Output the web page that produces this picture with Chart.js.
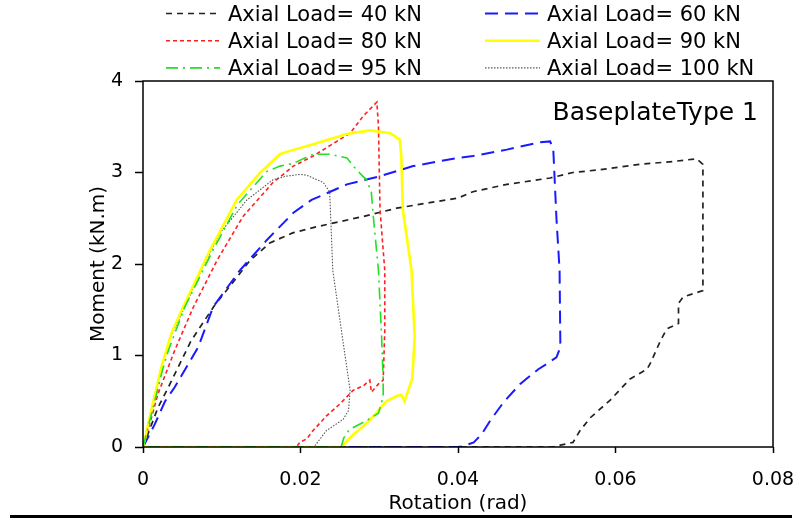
<!DOCTYPE html>
<html><head><meta charset="utf-8">
<script src="https://cdn.jsdelivr.net/npm/chart.js@4"></script>
<style>html,body{margin:0;padding:0;background:#fff}#wrap{width:800px;height:520px;position:relative}</style>
</head><body><div id="wrap"><canvas id="c" width="800" height="520"></canvas></div>
<script>
// ---- data (rotation rad, moment kN.m) ----
const seriesLabels = ['Axial Load= 40 kN','Axial Load= 60 kN','Axial Load= 80 kN','Axial Load= 90 kN','Axial Load= 95 kN','Axial Load= 100 kN'];
const xTickLabels = ['0','0.02','0.04','0.06','0.08'];
const yTickLabels = ['0','1','2','3','4'];
const annotationText = 'BaseplateType 1';
const xTitle = 'Rotation (rad)';
const yTitle = 'Moment (kN.m)';

const load40 = [[0,0],[0.0019,0.43],[0.0032,0.65],[0.0061,1.16],[0.0091,1.55],[0.0106,1.71],[0.0136,2.04],[0.0161,2.23],[0.019,2.34],[0.0222,2.41],[0.028,2.52],[0.0322,2.61],[0.0364,2.67],[0.04,2.72],[0.0419,2.79],[0.0462,2.87],[0.0517,2.94],[0.0546,3.0],[0.058,3.03],[0.0631,3.09],[0.0673,3.12],[0.0703,3.15],[0.0711,3.09],[0.0711,1.71],[0.0686,1.64],[0.068,1.57],[0.068,1.35],[0.0665,1.29],[0.0657,1.16],[0.0644,0.91],[0.064,0.85],[0.0618,0.74],[0.0593,0.51],[0.0568,0.32],[0.0555,0.18],[0.0546,0.05],[0.053,0.02],[0.052,0],[0,0]];
const load60 = [[0,0],[0.0015,0.25],[0.0028,0.5],[0.004,0.65],[0.007,1.09],[0.0089,1.53],[0.0123,1.93],[0.0157,2.26],[0.0191,2.56],[0.0214,2.7],[0.0259,2.87],[0.0301,2.96],[0.0343,3.07],[0.04,3.16],[0.0419,3.18],[0.0462,3.25],[0.0504,3.33],[0.0517,3.34],[0.0521,3.25],[0.0525,2.5],[0.0529,1.93],[0.053,1.09],[0.0525,0.98],[0.0513,0.91],[0.0502,0.85],[0.0479,0.69],[0.0458,0.49],[0.0441,0.29],[0.043,0.14],[0.042,0.05],[0.0407,0.01],[0.04,0],[0,0]];
const load80 = [[0,0],[0.00085,0.25],[0.0019,0.58],[0.004,1.05],[0.0064,1.53],[0.0094,2.04],[0.0127,2.52],[0.0165,2.89],[0.0191,3.07],[0.0216,3.18],[0.0263,3.43],[0.028,3.62],[0.0297,3.77],[0.0299,3.5],[0.0301,2.59],[0.0307,1.93],[0.0307,1.27],[0.0305,0.73],[0.0299,0.69],[0.029,0.6],[0.0288,0.73],[0.028,0.67],[0.0267,0.62],[0.025,0.47],[0.0233,0.34],[0.0216,0.18],[0.0208,0.09],[0.0199,0.05],[0.0195,0],[0,0]];
const load90 = [[0,0],[0.00106,0.4],[0.00233,0.87],[0.0036,1.24],[0.0051,1.53],[0.0085,2.15],[0.0119,2.7],[0.0149,3.0],[0.0174,3.2],[0.018,3.22],[0.0216,3.31],[0.0259,3.42],[0.0288,3.46],[0.0314,3.43],[0.0326,3.36],[0.0328,3.18],[0.033,2.59],[0.0341,1.93],[0.0345,1.2],[0.0342,0.75],[0.0336,0.6],[0.0332,0.5],[0.0328,0.57],[0.0323,0.56],[0.0309,0.5],[0.0295,0.36],[0.028,0.23],[0.0265,0.12],[0.0254,0.02],[0.0252,0],[0,0]];
const load95 = [[0,0],[0.0012,0.4],[0.0025,0.85],[0.0032,1.05],[0.0053,1.53],[0.0087,2.12],[0.012,2.65],[0.0157,3.01],[0.0174,3.07],[0.0191,3.1],[0.0216,3.2],[0.0237,3.2],[0.0259,3.16],[0.0267,3.07],[0.0279,2.96],[0.0284,2.92],[0.029,2.78],[0.0292,2.56],[0.0299,1.93],[0.0303,1.2],[0.0305,0.73],[0.0305,0.55],[0.0299,0.37],[0.0284,0.29],[0.0262,0.19],[0.0255,0.1],[0.0252,0.01],[0.025,0],[0,0]];
const load100 = [[0,0],[0.001,0.4],[0.0023,0.87],[0.0036,1.22],[0.0053,1.53],[0.0075,1.95],[0.0098,2.34],[0.0132,2.7],[0.0165,2.92],[0.0182,2.96],[0.02,2.98],[0.0208,2.97],[0.0229,2.89],[0.0237,2.79],[0.0238,2.59],[0.0241,1.93],[0.0252,1.27],[0.0263,0.62],[0.0261,0.4],[0.0254,0.3],[0.0233,0.18],[0.0218,0.01],[0.0215,0],[0,0]];

const allSeries = [load40, load60, load80, load90, load95, load100];
const styles = [
  {color:'#222222', width:1.7, dash:[6,5], order:6},
  {color:'#1a1aff', width:2, dash:[13,7], order:5},
  {color:'#ff2020', width:1.6, dash:[4,3], order:4},
  {color:'#ffff00', width:2.6, dash:[], order:2},
  {color:'#22e022', width:1.6, dash:[12,5,2,5], order:1},
  {color:'#555555', width:1.1, dash:[1.5,1.5], order:3}
];

const FONT = "'DejaVu Sans', sans-serif";

const datasets = allSeries.map((s, i) => ({
  label: seriesLabels[i],
  data: s.map(p => ({x:p[0], y:p[1]})),
  showLine: true,
  borderColor: styles[i].color,
  backgroundColor: styles[i].color,
  borderWidth: styles[i].width,
  borderDash: styles[i].dash,
  pointRadius: 0,
  pointHoverRadius: 0,
  tension: 0,
  fill: false,
  order: styles[i].order
}));

const decorPlugin = {
  id: 'decor',
  afterDatasetsDraw(chart) {
    const ctx = chart.ctx, a = chart.chartArea;
    ctx.save();
    ctx.strokeStyle = '#000';
    ctx.lineWidth = 1.5;
    ctx.setLineDash([]);
    ctx.strokeRect(a.left, a.top, a.right - a.left, a.bottom - a.top);
    ctx.restore();
  },
  afterDraw(chart) {
    const ctx = chart.ctx;
    ctx.save();
    // legend grid
    const cols = [{x0:166, x1:220, tx:228}, {x0:485, x1:540, tx:547}];
    const rowY = [13.5, 40.7, 67.9];
    chart.data.datasets.forEach((ds, i) => {
      const c = cols[i % 2], y = rowY[Math.floor(i / 2)];
      ctx.strokeStyle = ds.borderColor;
      ctx.lineWidth = ds.borderWidth;
      ctx.setLineDash(ds.borderDash);
      ctx.beginPath(); ctx.moveTo(c.x0, y); ctx.lineTo(c.x1, y); ctx.stroke();
      ctx.setLineDash([]);
      ctx.fillStyle = '#000';
      ctx.font = '21px ' + FONT;
      ctx.textAlign = 'left';
      ctx.textBaseline = 'alphabetic';
      ctx.fillText(ds.label, c.tx, y + 7.3);
    });
    // annotation
    ctx.font = '25px ' + FONT;
    ctx.textAlign = 'right';
    ctx.fillText(annotationText, 758, 120);
    // bottom rule
    ctx.fillStyle = '#000';
    ctx.fillRect(10, 515, 782, 3);
    ctx.restore();
  }
};

new Chart(document.getElementById('c'), {
  type: 'scatter',
  data: { datasets },
  options: {
    responsive: false,
    animation: false,
    devicePixelRatio: 1,
    layout: { padding: { left: 85, right: 27, top: 81, bottom: 2 } },
    plugins: { legend: { display: false }, tooltip: { enabled: false } },
    scales: {
      x: {
        type: 'linear', min: 0, max: 0.08,
        afterBuildTicks: s => { s.ticks = xTickLabels.map(t => ({value: parseFloat(t)})); },
        ticks: { callback: (v, i) => xTickLabels[i], color: '#000', font: { family: FONT, size: 19 }, padding: 16, maxRotation: 0 },
        grid: { display: true, drawOnChartArea: false, drawTicks: true, tickLength: 6, tickColor: '#000', tickWidth: 1.5 },
        border: { display: false },
        title: { display: true, text: xTitle, color: '#000', font: { family: FONT, size: 20 }, padding: { top: 2, bottom: 2 } },
        afterFit: s => { s.height = 71; s.paddingLeft = 0; s.paddingRight = 0; }
      },
      y: {
        type: 'linear', min: 0, max: 4,
        afterBuildTicks: s => { s.ticks = yTickLabels.map(t => ({value: parseFloat(t)})); },
        ticks: { callback: (v, i) => yTickLabels[i], color: '#000', font: { family: FONT, size: 19 }, padding: 12 },
        grid: { display: true, drawOnChartArea: false, drawTicks: true, tickLength: 8, tickColor: '#000', tickWidth: 1.5 },
        border: { display: false },
        title: { display: true, text: yTitle, color: '#000', font: { family: FONT, size: 20 }, padding: { top: 2, bottom: 2 } },
        afterFit: s => { s.width = 58; }
      }
    }
  },
  plugins: [decorPlugin]
});
</script>
</body></html>
